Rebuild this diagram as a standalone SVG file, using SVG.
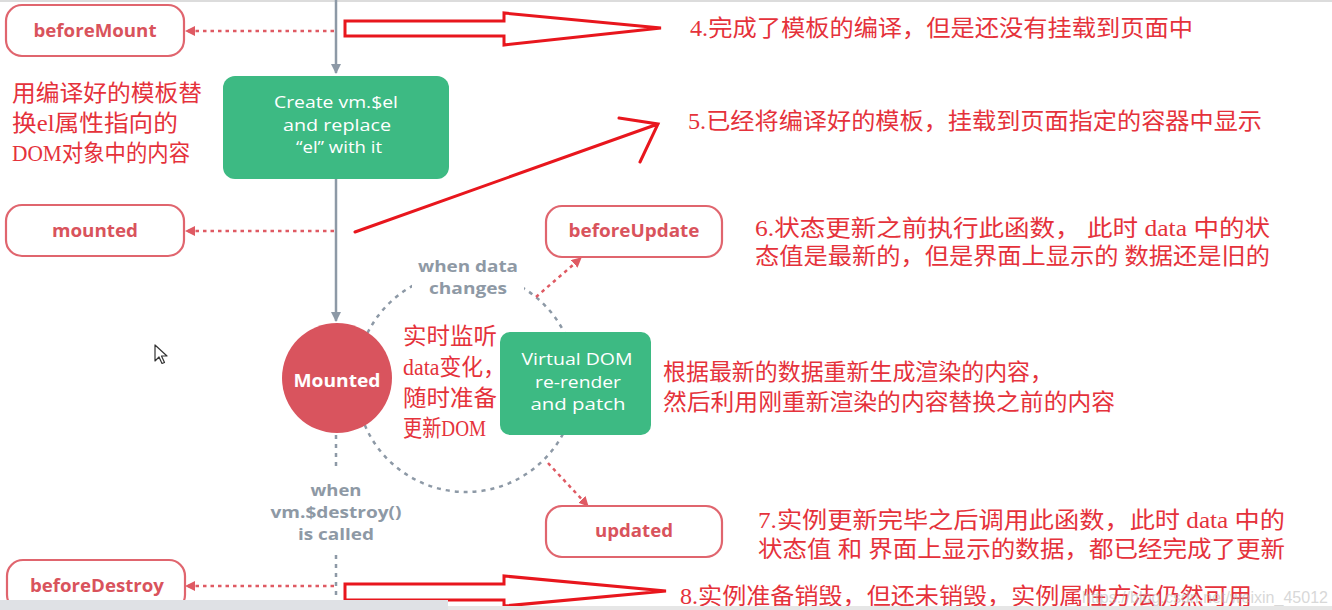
<svg xmlns="http://www.w3.org/2000/svg" width="1332" height="610" viewBox="0 0 1332 610">
<defs>
<style>
.hook rect{fill:#fff;stroke:#e0656e;stroke-width:2.2}
.hook text{font-family:"Open Sans","Liberation Sans",sans-serif;font-weight:700;font-size:18px;fill:#d9535c;text-anchor:middle}
.green rect{fill:#3dba83}
.green text{font-family:"Open Sans","Liberation Sans",sans-serif;font-size:17px;fill:#fff;text-anchor:middle}
.gl{font-family:"Open Sans","Liberation Sans",sans-serif;font-weight:700;font-size:16px;fill:#8e99a5;text-anchor:middle}
.note{font-family:"Liberation Serif","Noto Sans CJK SC",serif;font-size:23px;fill:#e5323b}
.solid{stroke:#8d99a6;stroke-width:2.5;fill:none}
.gdot{stroke:#8d99a6;stroke-width:2.5;fill:none;stroke-dasharray:4 5}
.rdot{stroke:#df5a63;stroke-width:2.5;fill:none;stroke-dasharray:3.5 4}
.big{fill:#fff;stroke:#e8161d;stroke-width:3;stroke-linejoin:miter}
.pen{stroke:#e8161d;stroke-width:3;fill:none;stroke-linecap:round}
</style>
<marker id="ga" viewBox="0 0 10 10" refX="9" refY="5" markerWidth="10" markerHeight="10" markerUnits="userSpaceOnUse" orient="auto"><path d="M0,0 L10,5 L0,10 z" fill="#8d99a6"/></marker>
<marker id="ra" viewBox="0 0 10 10" refX="9" refY="5" markerWidth="10" markerHeight="10" markerUnits="userSpaceOnUse" orient="auto"><path d="M0,0 L10,5 L0,10 z" fill="#df5a63"/></marker>
</defs>
<rect width="1332" height="610" fill="#fff"/>
<rect x="0" y="0" width="1332" height="2" fill="#dcdcdc"/>

<g id="connectors">
<line class="solid" x1="336" y1="0" x2="336" y2="73" marker-end="url(#ga)"/>
<line class="solid" x1="336" y1="179" x2="336" y2="321" marker-end="url(#ga)"/>
<line class="rdot" x1="334" y1="31" x2="186" y2="31" marker-end="url(#ra)"/>
<line class="rdot" x1="334" y1="231" x2="186" y2="231" marker-end="url(#ra)"/>
<line class="rdot" x1="334" y1="586" x2="186" y2="586" marker-end="url(#ra)"/>
<circle class="gdot" cx="466" cy="382" r="110"/>
<line class="gdot" x1="336" y1="435" x2="336" y2="470"/>
<line class="gdot" x1="336" y1="555" x2="336" y2="610"/>
<line class="rdot" x1="536" y1="297" x2="581" y2="258" marker-end="url(#ra)"/>
<line class="rdot" x1="548" y1="463" x2="588" y2="506" marker-end="url(#ra)"/>
<rect x="412" y="254" width="112" height="44" fill="#fff"/>
<text class="gl" x="468" y="272" textLength="100" lengthAdjust="spacingAndGlyphs">when data</text>
<text class="gl" x="468" y="294" textLength="78" lengthAdjust="spacingAndGlyphs">changes</text>
<text class="gl" x="336" y="496" textLength="51" lengthAdjust="spacingAndGlyphs">when</text>
<text class="gl" x="336" y="518" textLength="131" lengthAdjust="spacingAndGlyphs">vm.$destroy()</text>
<text class="gl" x="336" y="540" textLength="76" lengthAdjust="spacingAndGlyphs">is called</text>
</g>

<g id="beforeMount" class="hook"><rect x="6" y="5" width="178" height="51" rx="16"/><text x="95" y="37" textLength="123" lengthAdjust="spacingAndGlyphs">beforeMount</text></g>
<g id="mounted" class="hook"><rect x="6" y="205" width="178" height="51" rx="16"/><text x="95" y="237" textLength="86" lengthAdjust="spacingAndGlyphs">mounted</text></g>
<g id="beforeUpdate" class="hook"><rect x="546" y="206" width="176" height="51" rx="16"/><text x="634" y="237" textLength="131" lengthAdjust="spacingAndGlyphs">beforeUpdate</text></g>
<g id="updated" class="hook"><rect x="546" y="506" width="176" height="51" rx="16"/><text x="634" y="537" textLength="78" lengthAdjust="spacingAndGlyphs">updated</text></g>
<g id="beforeDestroy" class="hook"><rect x="7" y="560" width="178" height="51" rx="16"/><text x="97" y="592" textLength="134" lengthAdjust="spacingAndGlyphs">beforeDestroy</text></g>

<g id="createEl" class="green"><rect x="223" y="76" width="226" height="103" rx="12"/>
<text x="336" y="108" textLength="124" lengthAdjust="spacingAndGlyphs">Create vm.$el</text>
<text x="337" y="131" textLength="108" lengthAdjust="spacingAndGlyphs">and replace</text>
<text x="339" y="153" textLength="86" lengthAdjust="spacingAndGlyphs">“el” with it</text></g>

<g id="mountedCircle"><circle cx="337" cy="378" r="55" fill="#d9545e"/>
<text x="337" y="387" textLength="87" lengthAdjust="spacingAndGlyphs" style="font-family:'Open Sans','Liberation Sans',sans-serif;font-weight:700;font-size:18px;fill:#fff;text-anchor:middle">Mounted</text></g>

<g id="virtualDom" class="green"><rect x="500" y="332" width="151" height="103" rx="10"/>
<text x="577" y="365" textLength="111" lengthAdjust="spacingAndGlyphs">Virtual DOM</text>
<text x="578" y="388" textLength="86" lengthAdjust="spacingAndGlyphs">re-render</text>
<text x="578" y="410" textLength="95" lengthAdjust="spacingAndGlyphs">and patch</text></g>

<g id="leftNote" class="note">
<text x="12" y="101" textLength="190" lengthAdjust="spacingAndGlyphs">用编译好的模板替</text>
<text x="12" y="131" textLength="166" lengthAdjust="spacingAndGlyphs">换el属性指向的</text>
<text x="12" y="161" textLength="178" lengthAdjust="spacingAndGlyphs">DOM对象中的内容</text>
</g>

<g id="circleNote" class="note">
<text x="403" y="344" textLength="94" lengthAdjust="spacingAndGlyphs">实时监听</text>
<text x="403" y="375" textLength="102" lengthAdjust="spacingAndGlyphs">data变化，</text>
<text x="403" y="406" textLength="94" lengthAdjust="spacingAndGlyphs">随时准备</text>
<text x="403" y="436" textLength="83" lengthAdjust="spacingAndGlyphs">更新DOM</text>
</g>

<g id="arrow4"><polygon class="big" points="345,21 504,21 504,13 661,28 504,45 504,36 345,36"/></g>
<g id="arrow5"><path class="pen" d="M355,232 L658,124 M619,118 L658,124 L640,162"/></g>
<g id="arrow8"><polygon class="big" points="345,584 504,584 504,576 666,591 504,606 504,600 345,600"/></g>

<g id="notes" class="note">
<text x="690" y="36" textLength="503" lengthAdjust="spacingAndGlyphs">4.完成了模板的编译，但是还没有挂载到页面中</text>
<text x="688" y="129" textLength="574" lengthAdjust="spacingAndGlyphs">5.已经将编译好的模板，挂载到页面指定的容器中显示</text>
<text x="755" y="236" textLength="515" lengthAdjust="spacingAndGlyphs">6.状态更新之前执行此函数， 此时 data 中的状</text>
<text x="755" y="264" textLength="515" lengthAdjust="spacingAndGlyphs">态值是最新的，但是界面上显示的 数据还是旧的</text>
<text x="663" y="380" textLength="390" lengthAdjust="spacingAndGlyphs">根据最新的数据重新生成渲染的内容，</text>
<text x="663" y="410" textLength="452" lengthAdjust="spacingAndGlyphs">然后利用刚重新渲染的内容替换之前的内容</text>
<text x="758" y="528" textLength="527" lengthAdjust="spacingAndGlyphs">7.实例更新完毕之后调用此函数，此时 data 中的</text>
<text x="758" y="557" textLength="527" lengthAdjust="spacingAndGlyphs">状态值 和 界面上显示的数据，都已经完成了更新</text>
<text x="680" y="604" textLength="572" lengthAdjust="spacingAndGlyphs">8.实例准备销毁，但还未销毁，实例属性方法仍然可用</text>
</g>

<g id="cursor"><path d="M155,345 L155,361 L159,357 L162,363.5 L164.5,362.5 L161.5,356 L167,356 Z" fill="#fff" stroke="#333" stroke-width="1.2" stroke-linejoin="round"/></g>

<g id="watermark"><text x="1082" y="603" textLength="246" lengthAdjust="spacingAndGlyphs" style="font-family:'Liberation Sans',sans-serif;font-size:16px;fill:#b9b9b9;opacity:0.55">https://blog.csdn.net/weixin_45012</text></g>
<rect x="0" y="606" width="1332" height="4" fill="#e6e6e6"/>
<rect x="0" y="600" width="448" height="10" fill="#dfe1e5"/>
</svg>
